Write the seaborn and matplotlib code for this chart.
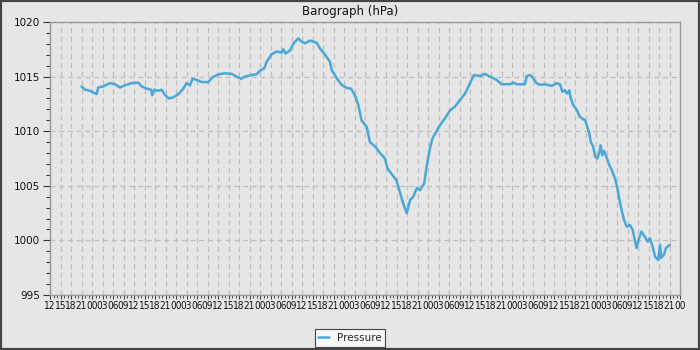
import matplotlib
matplotlib.use("Agg")
import matplotlib.pyplot as plt
import matplotlib.dates as mdates
from matplotlib.patches import Rectangle
import seaborn as sns
import pandas as pd

# ---- data (hours after the first tick, pressure in hPa) ----
hours = [9.0, 10.0, 11.4, 12.7, 13.3, 13.8, 15.2, 17.1, 18.6, 20.0, 21.4, 23.3,
         25.2, 26.2, 27.6, 28.9, 29.2, 29.8, 31.0, 31.9, 32.9, 34.0, 35.2, 36.7,
         38.1, 39.0, 40.0, 40.7, 41.9, 43.3, 45.2, 46.7, 48.1, 50.0, 51.9, 53.3,
         54.6, 55.7, 57.6, 59.0, 60.0, 61.2, 61.9, 63.3, 64.8, 66.2, 66.7, 67.3,
         68.6, 69.5, 70.9, 71.9, 72.9, 74.3, 76.2, 77.1, 78.6, 80.0, 80.5, 81.9,
         83.3, 84.8, 86.0, 87.1, 88.1, 89.0, 90.5, 91.4, 92.9, 94.3, 95.7, 96.4,
         97.6, 99.0, 99.8, 100.8, 101.9, 102.9, 103.8, 104.8, 105.7, 106.9, 107.6,
         108.4, 109.2, 110.5, 111.4, 112.9, 114.3, 115.7, 117.1, 118.6, 120.0,
         121.1, 122.9, 124.3, 125.7, 127.6, 129.0, 131.4, 132.4, 133.3, 135.7,
         136.2, 137.1, 138.1, 139.0, 140.0, 141.4, 143.3, 144.8, 145.7, 146.4,
         147.1, 147.8, 148.4, 148.8, 149.5, 150.5, 151.4, 152.9, 153.5, 154.1,
         154.5, 155.2, 155.7, 156.4, 157.0, 157.3, 157.8, 158.3, 158.9, 159.8,
         160.5, 161.4, 162.1, 162.7, 163.3, 164.0, 164.8, 165.7, 166.5, 167.1,
         167.6, 168.4, 169.0, 170.0, 170.7, 171.4, 172.2, 172.9, 173.8, 174.3,
         174.6, 175.4, 176.0, 177.1]
pressure = [1014.1, 1013.8, 1013.7, 1013.5, 1013.4, 1014.0, 1014.1, 1014.4, 1014.3,
            1014.0, 1014.2, 1014.4, 1014.45, 1014.1, 1013.9, 1013.8, 1013.3, 1013.8,
            1013.7, 1013.8, 1013.3, 1013.0, 1013.1, 1013.4, 1013.9, 1014.4, 1014.2,
            1014.8, 1014.7, 1014.5, 1014.5, 1015.0, 1015.2, 1015.3, 1015.25, 1015.0,
            1014.8, 1015.0, 1015.15, 1015.2, 1015.55, 1015.75, 1016.35, 1017.05,
            1017.3, 1017.2, 1017.5, 1017.1, 1017.4, 1018.0, 1018.5, 1018.2, 1018.05,
            1018.3, 1018.1, 1017.6, 1017.0, 1016.35, 1015.6, 1014.85, 1014.25,
            1013.95, 1013.9, 1013.3, 1012.4, 1011.0, 1010.4, 1009.0, 1008.6, 1008.0,
            1007.5, 1006.6, 1006.1, 1005.5, 1004.6, 1003.5, 1002.5, 1003.7, 1004.0,
            1004.8, 1004.6, 1005.2, 1006.75, 1008.2, 1009.3, 1010.05, 1010.55,
            1011.2, 1011.9, 1012.25, 1012.85, 1013.45, 1014.4, 1015.15, 1015.05,
            1015.25, 1015.0, 1014.7, 1014.3, 1014.3, 1014.45, 1014.3, 1014.3,
            1015.05, 1015.15, 1014.85, 1014.4, 1014.25, 1014.3, 1014.15, 1014.4,
            1014.3, 1013.6, 1013.75, 1013.45, 1013.75, 1013.0, 1012.4, 1011.95,
            1011.3, 1011.0, 1010.4, 1009.8, 1009.0, 1008.6, 1007.7, 1007.5, 1008.1,
            1008.7, 1007.8, 1008.2, 1007.7, 1006.9, 1006.45, 1005.7, 1004.8, 1003.7,
            1002.8, 1001.9, 1001.25, 1001.4, 1000.95, 1000.0, 999.3, 1000.3, 1000.8,
            1000.3, 999.9, 1000.2, 999.4, 998.5, 998.2, 999.6, 998.4, 998.7, 999.3,
            999.6]
series_name = "Pressure"
title = "Barograph (hPa)"
start = pd.Timestamp("2024-01-01 12:00")
span_hours = 180
y_min, y_max = 995, 1020

df = pd.DataFrame({
    "time": start + pd.to_timedelta(hours, unit="h"),
    "value": pressure,
    "series": series_name,
})

sns.set_theme(style="white")
plt.rcParams["font.family"] = ["DejaVu Sans"]

bg = "#e6e6e6"
fig = plt.figure(figsize=(7, 3.5), dpi=100, facecolor=bg)
ax = fig.add_axes([50 / 700, 1 - 295 / 350, 630 / 700, 273 / 350])
ax.set_facecolor(bg)

sns.lineplot(data=df, x="time", y="value", hue="series", palette=["#4aa8d8"],
             linewidth=1.8, ax=ax, legend=False)

ax.set_xlim(start, start + pd.Timedelta(hours=span_hours))
ax.set_ylim(y_min, y_max)
ax.set_xlabel("")
ax.set_ylabel("")

ax.xaxis.set_major_locator(mdates.HourLocator(byhour=range(0, 24, 3)))
ax.xaxis.set_minor_locator(mdates.HourLocator())
ax.xaxis.set_major_formatter(mdates.DateFormatter("%H"))
ax.yaxis.set_major_locator(matplotlib.ticker.MultipleLocator(5))
ax.yaxis.set_minor_locator(matplotlib.ticker.MultipleLocator(1))

ax.grid(True, which="major", color="#bdbdbd", linestyle=(0, (4, 3)), linewidth=0.9)
ax.set_axisbelow(True)

for s in ax.spines.values():
    s.set_color("#999999")
    s.set_linewidth(1.0)

ax.tick_params(axis="y", which="major", direction="out", length=5, width=0.8,
               color="#333333", labelsize=7.5, labelcolor="#111111", pad=2, left=True)
ax.tick_params(axis="y", which="minor", direction="out", length=3, width=0.8,
               color="#333333", left=True)
ax.tick_params(axis="x", which="major", direction="out", length=3, width=0.7,
               color="#333333", labelsize=7.5, labelcolor="#111111", pad=1, bottom=True)
ax.tick_params(axis="x", which="minor", direction="out", length=2, width=0.6,
               color="#333333", bottom=True)
for lab in ax.get_xticklabels():
    lab.set_fontstretch("condensed")
    lab.set_fontsize(7.2)

fig.text(0.5, 1 - 11 / 350, title, ha="center", va="center", fontsize=8.5,
         color="#111111")

handle = matplotlib.lines.Line2D([], [], color="#4aa8d8", linewidth=1.8)
leg = fig.legend([handle], [series_name], loc="center", bbox_to_anchor=(0.5, 1 - 338 / 350),
                 frameon=True, fancybox=False, fontsize=7.5, handlelength=1.0,
                 handletextpad=0.8, borderpad=0.35, borderaxespad=0)
leg.get_frame().set_facecolor("#f7f7f7")
leg.get_frame().set_edgecolor("#444444")
leg.get_frame().set_linewidth(0.8)
leg.get_frame().set_alpha(1)

fig.patches.append(Rectangle((0, 0), 1, 1, transform=fig.transFigure, fill=False,
                             edgecolor="#444444", linewidth=3, zorder=10))

fig.savefig("out.png", dpi=100, facecolor=bg)
